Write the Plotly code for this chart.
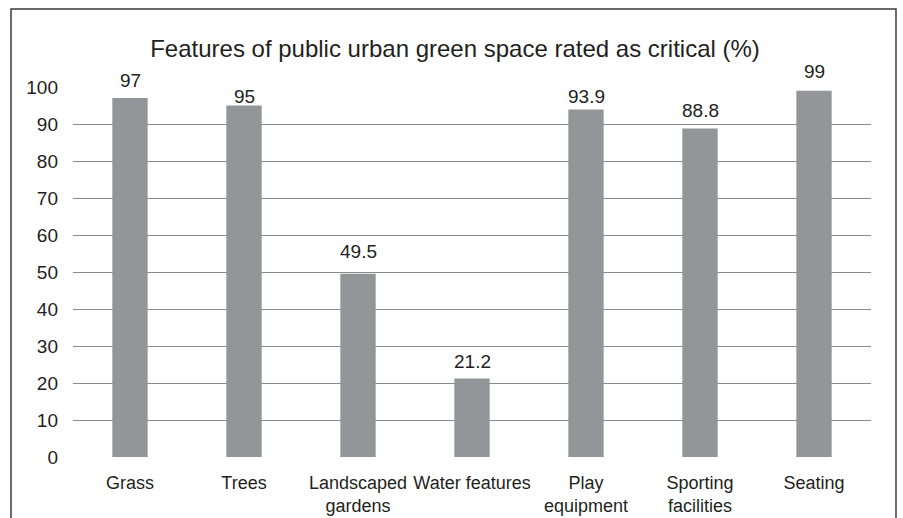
import plotly.graph_objects as go

categories = ["Grass", "Trees", "Landscaped<br>gardens", "Water features",
              "Play<br>equipment", "Sporting<br>facilities", "Seating"]
values = [97, 95, 49.5, 21.2, 93.9, 88.8, 99]
value_labels = ["97", "95", "49.5", "21.2", "93.9", "88.8", "99"]
tick_vals = [0, 10, 20, 30, 40, 50, 60, 70, 80, 90, 100]

# label offset above bar top (px), style only
label_shift_px = [18, 9, 22, 17, 13, 18, 19]

W, H = 903, 518
L, R, T, B = 73, 32, 87, 61
FONT = "Liberation Sans, Arial, sans-serif"
TXT = "#231f20"

fig = go.Figure()
fig.add_trace(go.Bar(x=categories, y=values, marker=dict(color="#939598", line=dict(width=0)),
                     width=0.31, hoverinfo="skip"))

for c, v, lab, s in zip(categories, values, value_labels, label_shift_px):
    fig.add_annotation(x=c, y=v, text=lab, showarrow=False, yanchor="middle",
                       yshift=s, font=dict(family=FONT, size=19, color=TXT))

pw = W - L - R
ph = H - T - B
fig.add_shape(type="rect", xref="paper", yref="paper",
              x0=(11 - L) / pw, x1=(896 - L) / pw,
              y0=-(H + 20 - (T + ph)) / ph, y1=1 + (T - 9) / ph,
              line=dict(color="#3c3c3c", width=1.5), fillcolor="rgba(0,0,0,0)", layer="below")

fig.update_layout(
    width=W, height=H,
    margin=dict(l=L, r=R, t=T, b=B, pad=0, autoexpand=False),
    paper_bgcolor="white", plot_bgcolor="white",
    showlegend=False,
    title=dict(text="Features of public urban green space rated as critical (%)",
               x=455 / W, xanchor="center", xref="container",
               y=1 - 49 / H, yanchor="middle", yref="container",
               font=dict(family=FONT, size=24, color=TXT)),
    font=dict(family=FONT, color=TXT),
    xaxis=dict(showgrid=False, showline=False, zeroline=False, ticks="",
               tickfont=dict(family=FONT, size=18, color=TXT), automargin=False,
               ticklabelstandoff=13, fixedrange=True),
    yaxis=dict(range=[0, 100], tickvals=tick_vals, showgrid=True, gridcolor="#8a8a8a",
               gridwidth=1.3, zeroline=False, showline=False, ticks="", automargin=False,
               tickfont=dict(family=FONT, size=19, color=TXT),
               ticklabelstandoff=14, fixedrange=True),
)
fig.update_layout(bargap=0.69)

fig.write_html("out.html", config={"displayModeBar": False},
               post_script="document.body.style.margin='0';document.body.style.overflow='hidden';")
